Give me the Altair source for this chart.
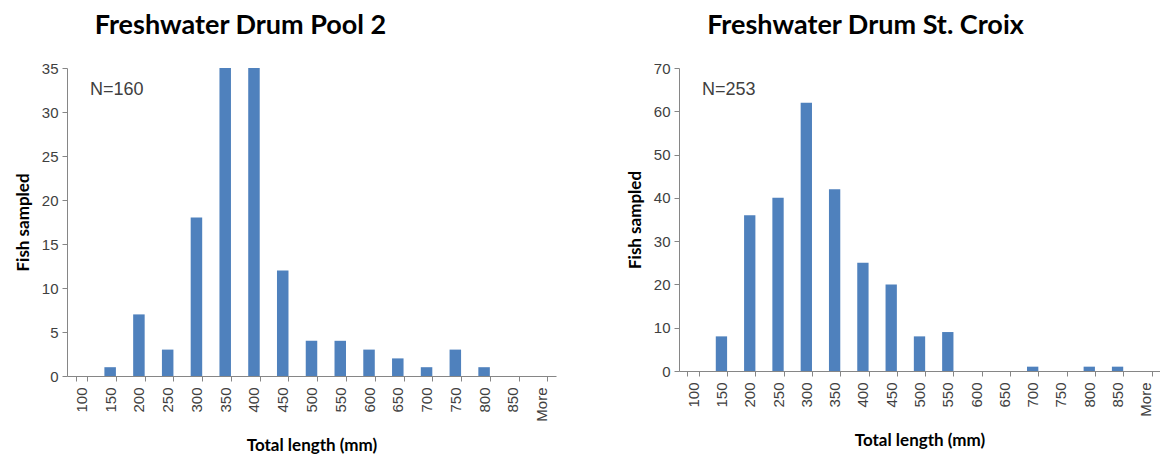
import altair as alt
import pandas as pd

bins = ["100", "150", "200", "250", "300", "350", "400", "450", "500",
        "550", "600", "650", "700", "750", "800", "850", "More"]
pool2_counts = [0, 1, 7, 3, 18, 35, 35, 12, 4, 4, 3, 2, 1, 3, 1, 0, 0]
croix_counts = [0, 8, 36, 40, 62, 42, 25, 20, 8, 9, 0, 0, 1, 0, 1, 1, 0]

pool2_title = "Freshwater Drum Pool 2"
croix_title = "Freshwater Drum St. Croix"
pool2_note = "N=160"
croix_note = "N=253"
pool2_yticks = [0, 5, 10, 15, 20, 25, 30, 35]
croix_yticks = [0, 10, 20, 30, 40, 50, 60, 70]

BAR = "#4F81BD"
AXIS = "#868686"
LABEL = "#404040"


def panel(counts, title, note, yticks, width, height, title_dx, title_size):
    df = pd.DataFrame({"bin": bins, "count": counts})
    base = alt.Chart(df)
    bars = base.mark_bar(color=BAR).encode(
        x=alt.X("bin:N", sort=bins,
                scale=alt.Scale(paddingInner=0.6, paddingOuter=0.3),
                axis=alt.Axis(title="Total length (mm)", labelAngle=-90,
                              labelAlign="right", labelBaseline="middle",
                              tickBand="extent", labelFont="Liberation Sans",
                              labelFontSize=15, labelColor=LABEL,
                              labelPadding=6, tickSize=5,
                              titleFont="Lato", titleFontSize=17,
                              titleFontWeight="bold", titleColor="black",
                              titlePadding=16, domainColor=AXIS,
                              tickColor=AXIS)),
        y=alt.Y("count:Q",
                scale=alt.Scale(domain=[yticks[0], yticks[-1]], nice=False),
                axis=alt.Axis(title="Fish sampled", values=yticks, grid=False,
                              labelFont="Liberation Sans", labelFontSize=15,
                              labelColor=LABEL, labelPadding=4, tickSize=5,
                              titleFont="Lato", titleFontSize=17,
                              titleFontWeight="bold", titleColor="black",
                              titlePadding=9, domainColor=AXIS,
                              tickColor=AXIS)),
    )
    text = alt.Chart(pd.DataFrame({"t": [note]})).mark_text(
        align="left", baseline="alphabetic", font="Liberation Sans",
        fontSize=18, color=LABEL
    ).encode(x=alt.value(23), y=alt.value(27), text="t:N")
    return alt.layer(bars, text).properties(
        width=width, height=height,
        title=alt.TitleParams(title, font="Lato", fontSize=title_size,
                              fontWeight="bold", color="black",
                              anchor="middle", dx=title_dx, offset=21),
    )


left = panel(pool2_counts, pool2_title, pool2_note, pool2_yticks,
             489, 308, -71, 27)
right = panel(croix_counts, croix_title, croix_note, croix_yticks,
              481, 303, -54, 27)

chart = alt.hconcat(left, right, spacing=70).properties(
    padding={"left": 6, "top": 4, "right": 0, "bottom": 0}
).configure_view(stroke=None)

chart.save("out.html", embed_options={"renderer": "svg", "actions": False})
